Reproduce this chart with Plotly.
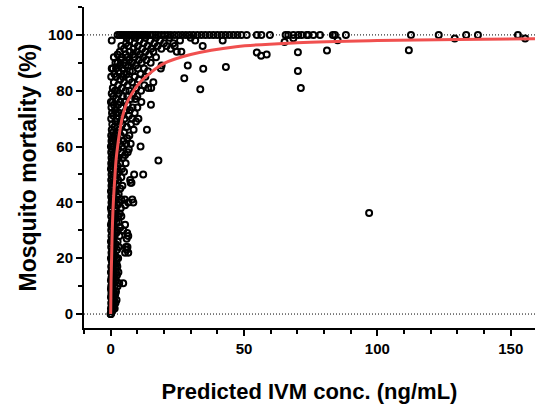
import plotly.graph_objects as go

# ---- dense low-concentration points (mortality level : concentrations) ----
cluster_rows = [
    (0, [0, 0, 0.1]), (1, [0.2, 0.6]), (2, [0.1, 0.9, 1.5]), (3, [0.4, 1.2]),
    (4, [0.2, 0.8, 1.8]), (5, [0.5, 1.3, 2.2]), (6, [0.1, 1.0]), (7, [0.6, 1.7, 0.3]),
    (8, [0.3, 1.2, 2.0]), (9, [0.8, 0.1]), (10, [0.2, 1.5, 2.6]), (11, [0.5, 1.1, 3.2, 4.7]),
    (12, [0.9, 2.0, 0.1]), (13, [0.3, 1.6]), (14, [0.7, 1.3, 2.4]), (15, [0.1, 2.0, 2.9]),
    (16, [1.0, 0.5]), (17, [1.8, 0.2, 2.5]), (18, [0.8, 1.4, 2.2]), (19, [0.4, 1.1]),
    (20, [0.1, 1.2, 2.1, 2.8]), (21, [0.6, 1.7]), (22, [0.3, 1.0, 5.4, 6.6]),
    (23, [2.4, 0.8, 6.0]), (24, [0.2, 1.5, 3.0, 5.7, 6.3]), (25, [0.5, 1.9]),
    (26, [1.1, 2.6, 0.1]), (27, [0.7, 6.0]), (28, [0.3, 1.4, 3.3, 6.6]),
    (29, [2.1, 0.9, 6.2]), (30, [0.2, 1.6, 2.6, 4.7]), (31, [0.6, 3.6]),
    (32, [1.2, 0.1, 5.4]), (33, [0.4, 2.2, 3.0]), (34, [1.7, 0.8]),
    (35, [0.2, 1.3, 2.9, 4.0]), (36, [0.6, 3.4, 1.0]), (37, [0.3, 2.0]),
    (38, [1.5, 0.1, 3.8]), (39, [0.7, 2.5, 5.4]), (40, [0.3, 1.2, 3.2, 6.6, 8.5]),
    (41, [0.5, 1.8, 4.0, 5.3, 8.1]), (42, [0.2, 2.4, 1.0]), (43, [0.8, 3.0]),
    (44, [0.1, 1.4, 2.0]), (45, [0.5, 3.6, 1.0]), (46, [0.3, 2.2, 4.4]),
    (47, [1.2, 7.8, 0.6, 7.5]), (48, [0.2, 2.8, 7.3, 1.7]), (49, [0.8, 4.0]),
    (50, [0.3, 1.4, 8.8, 12.2, 2.4]), (51, [0.7, 3.1, 5.0]), (52, [0.1, 1.9, 4.2]),
    (53, [1.0, 2.6, 0.4]), (54, [0.2, 3.5, 1.5, 5.6]), (55, [0.6, 2.2, 17.9]),
    (56, [0.3, 1.2, 4.6, 3.0]), (57, [0.8, 2.0, 5.4]), (58, [0.2, 1.6, 3.8, 6.4]),
    (59, [0.5, 2.8, 6.8]), (60, [0.1, 1.1, 2.2, 4.2, 11.2]), (61, [0.7, 3.4, 5.8, 7.5]),
    (62, [0.3, 1.8, 4.8]), (63, [1.2, 2.6, 6.2, 0.6]), (64, [0.2, 3.8, 7.0, 1.6]),
    (65, [0.8, 2.2, 5.0]), (66, [0.4, 3.2, 13.6, 8.6]), (67, [1.4, 6.0, 2.6]),
    (68, [0.6, 4.4, 7.6]), (69, [1.8, 3.6, 9.5]), (70, [0.2, 2.4, 5.2, 10.4, 8.0]),
    (71, [1.0, 4.2, 6.8]), (72, [0.5, 3.0, 9.0, 2.0]), (73, [1.6, 5.8, 7.2]),
    (74, [0.3, 4.0, 10.0, 8.2]), (75, [1.2, 2.8, 6.4, 15.1]),
    (76, [0.1, 0.7, 3.6, 5.2, 11.5]), (77, [2.0, 7.6, 9.2]), (78, [1.0, 4.6, 10.0, 6.2]),
    (79, [0.4, 3.0, 8.4]), (80, [1.6, 5.6, 11.4, 7.0, 2.4]),
    (81, [0.8, 4.2, 14.1, 15.2, 9.6]), (82, [2.8, 6.4, 12.6]), (83, [1.2, 5.0, 8.0, 16.0]),
    (84, [3.6, 7.0, 10.6]), (85, [0.2, 2.0, 4.6, 9.0, 13.0]), (86, [1.4, 6.0, 11.2, 5.0]),
    (87, [3.0, 8.2, 14.0, 7.2]), (88, [0.4, 0.8, 2.0, 4.4, 10.2, 12.5, 18.8]),
    (89, [3.4, 6.6, 9.4, 5.6, 19.1]), (90, [1.8, 5.2, 8.0, 11.6, 15.0, 2.6]),
    (91, [3.8, 7.0, 10.6, 13.4]), (92, [1.2, 4.2, 6.2, 9.0, 12.2, 17.0]),
    (93, [2.6, 5.6, 8.4, 11.0, 14.4]), (94, [3.4, 7.2, 9.8, 13.0, 16.0, 24.8, 26.5]),
    (95, [5.0, 8.6, 11.8, 15.2, 19.0, 22.5]),
    (96, [4.0, 6.6, 10.2, 13.8, 17.6, 21.0, 24.0, 34.5]),
    (97, [5.8, 9.0, 12.4, 16.4, 20.0, 23.5]),
    (98, [0.4, 7.0, 10.8, 14.8, 18.5, 26.0, 31.7, 42.0]),
    (99, [6.0, 9.4, 13.0, 17.0, 22.0, 30.0]),
]

# ---- points at 100 % mortality ----
top_conc = [2.6, 3.4, 4.2, 5.0, 5.8, 6.6, 7.4, 8.2, 9.0, 9.8, 10.6, 11.4, 12.2, 13.0,
            13.8, 14.8, 15.8, 16.8, 17.8, 19.0, 20.2, 21.4, 22.6, 24.0, 25.4, 26.8,
            28.2, 29.6, 31.0, 32.5, 34.0, 35.5, 37.0, 38.5, 40.0, 41.5, 43.0, 44.5,
            46.0, 47.5, 49.0, 51.0, 54.8, 56.5, 59.7, 65.6, 66.6, 68.5, 70.3, 71.6,
            73.5, 74.1, 76.0, 78.5, 83.3, 84.1, 88.2, 112.6, 123.0, 133.3, 137.7, 152.7]
top_mort = [100] * len(top_conc)

# ---- scattered higher-concentration points ----
scatter_conc = [27.6, 28.9, 33.6, 34.7, 43.2, 54.8, 56.4, 58.5, 70.2, 70.2, 71.3,
                81.1, 111.8, 129.0, 155.4, 65.2, 68.5, 85.1, 96.9]
scatter_mort = [84.5, 89.0, 80.5, 87.9, 88.5, 93.7, 92.5, 93.0, 93.8, 87.1, 81.0,
                94.4, 94.5, 98.7, 98.7, 97.5, 98.8, 98.1, 36.2]

# ---- fitted curve ----
fit_conc = [0, 0.15, 0.35, 0.6, 1, 1.5, 2, 2.6, 3.5, 4.5, 6, 8, 11, 15, 20, 30,
            47, 70, 100, 130, 160]
fit_mort = [0, 12, 20, 30, 40, 48, 55, 60, 66, 71, 75.5, 79, 83, 86.5, 89.8, 93,
            95.8, 97.2, 98, 98.4, 98.6]

conc, mort = [], []
for level, xs in cluster_rows:
    conc += xs
    mort += [level] * len(xs)
conc += top_conc + scatter_conc
mort += top_mort + scatter_mort

FONT = "Liberation Sans, Arial, sans-serif"

fig = go.Figure()
fig.add_trace(go.Scatter(
    x=conc, y=mort, mode="markers",
    marker=dict(symbol="circle-open", size=6, color="black", line=dict(width=2, color="black")),
    showlegend=False, hoverinfo="skip"))
fig.add_trace(go.Scatter(
    x=fit_conc, y=fit_mort, mode="lines",
    line=dict(color="#f0504f", width=3, shape="spline"),
    showlegend=False, hoverinfo="skip"))

for yv in (0, 100):
    fig.add_shape(type="line", xref="paper", x0=0, x1=1, yref="y", y0=yv, y1=yv,
                  line=dict(color="black", width=1, dash="1px,2px"), layer="below")

axis_common = dict(
    showline=True, linecolor="black", linewidth=2, showgrid=False, zeroline=False,
    ticks="outside", ticklen=6, tickwidth=2, tickcolor="black",
    tickfont=dict(family=FONT, size=15, color="black", weight="bold"),
)

fig.update_xaxes(
    range=[-10, 159.1], tick0=0, dtick=50,
    minor=dict(dtick=10, tick0=0, ticks="outside", ticklen=4, tickwidth=2, tickcolor="black"),
    title=dict(text="Predicted IVM conc. (ng/mL)", standoff=28,
               font=dict(family=FONT, size=22, color="black", weight="bold")),
    **axis_common)
fig.update_yaxes(
    range=[-5, 110], tick0=0, dtick=20,
    minor=dict(dtick=10, tick0=0, ticks="outside", ticklen=4, tickwidth=2, tickcolor="black"),
    title=dict(text="Mosquito mortality (%)", standoff=5,
               font=dict(family=FONT, size=23, color="black", weight="bold")),
    **axis_common)

fig.update_layout(
    width=535, height=407,
    margin=dict(l=84, r=0, t=7, b=79, autoexpand=False),
    plot_bgcolor="white", paper_bgcolor="white",
)

fig.write_html("out.html", config={"displayModeBar": False},
               post_script="document.body.style.margin='0px';")
